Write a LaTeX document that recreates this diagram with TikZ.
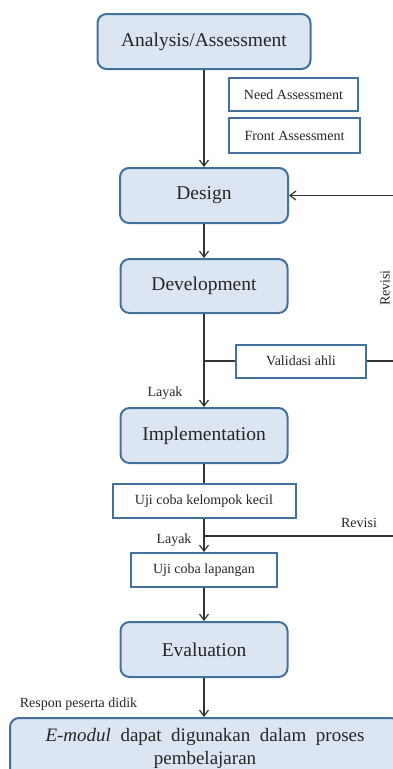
\documentclass[tikz,border=0pt]{standalone}
\usepackage{fontspec}
\setmainfont{Liberation Serif}
\usepackage{xcolor}
\usetikzlibrary{arrows.meta,positioning,calc}
\definecolor{boxfill}{RGB}{220,230,242}
\definecolor{boxline}{RGB}{65,113,156}

\begin{document}
\begin{tikzpicture}[x=1pt,y=-1pt,
        stage/.style={draw=boxline,fill=boxfill,line width=2pt,rounded corners=9pt,
            font=\fontsize{19.5}{23}\selectfont,text=black!85,inner sep=0pt},
        task/.style={draw=boxline,fill=white,line width=2pt,
            font=\fontsize{14}{17}\selectfont,text=black!85,inner sep=0pt},
        flow/.style={line width=1.2pt,black!80},
        arr/.style={flow,-{Straight Barb[length=6pt,width=9pt]}},
        note/.style={font=\fontsize{14}{17}\selectfont,text=black!85}]
        \useasboundingbox (0,0) rectangle (393,769);
        \clip (0,0) rectangle (393,769);

        % Main stages
        \node[stage,minimum width=213pt,minimum height=55pt] (analysis) at (204,41.5) {Analysis/Assessment};
        \node[stage,minimum width=168pt,minimum height=55pt] (design) at (204,195.5) {Design};
        \node[stage,minimum width=167pt,minimum height=54pt] (develop) at (204,286) {Development};
        \node[stage,minimum width=167pt,minimum height=55pt] (implement) at (204,435.5) {Implementation};
        \node[stage,minimum width=167pt,minimum height=55pt] (evaluation) at (204,649.5) {Evaluation};
        \node[stage,minimum width=390pt,minimum height=60pt,font=\fontsize{19}{23}\selectfont,align=center]
            (emodul) at (205,748) {\makebox[319pt][s]{\textit{E-modul} dapat digunakan dalam proses}\\pembelajaran};

        % Activity boxes
        \node[task,minimum width=129pt,minimum height=33pt] (needass) at (293.5,94.5) {Need Assessment};
        \node[task,minimum width=131pt,minimum height=35pt] (frontass) at (294.5,135.5) {Front Assessment};
        \node[task,minimum width=130pt,minimum height=33pt] (validasi) at (301,361) {Validasi ahli};
        \node[task,minimum width=183pt,minimum height=34pt] (ujikecil) at (204,501) {Uji coba kelompok kecil};
        \node[task,minimum width=146pt,minimum height=34pt] (ujilapangan) at (204,570) {Uji coba lapangan};

        % Branch points and loose ends
        \coordinate (revdesign) at (393,195.5);
        \coordinate (split1) at (204,361);
        \coordinate (rev1) at (393,361);
        \coordinate (split2) at (204,536);
        \coordinate (rev2) at (393,536);

        % Flow
        \draw[arr] (analysis) -- (design);
        \draw[arr] (design) -- (develop);
        \draw[arr] (develop) -- (implement);
        \draw[flow] (split1) -- (validasi);
        \draw[flow] (validasi) -- (rev1);
        \draw[arr] (revdesign) -- (design);
        \draw[flow] (implement) -- (ujikecil);
        \draw[arr] (ujikecil) -- (ujilapangan);
        \draw[flow] (split2) -- (rev2);
        \draw[arr] (ujilapangan) -- (evaluation);
        \draw[arr] (evaluation) -- (evaluation |- emodul.north);

        % Labels
        \node[note] (layak1) at (165,393) {Layak};
        \node[note] (layak2) at (174,540) {Layak};
        \node[note,rotate=90] (revisi1) at (385,288) {Revisi};
        \node[note] (revisi2) at (359,523) {Revisi};
        \node[note] (respon) at (78.5,704) {Respon peserta didik};
    \end{tikzpicture}
\end{document}
